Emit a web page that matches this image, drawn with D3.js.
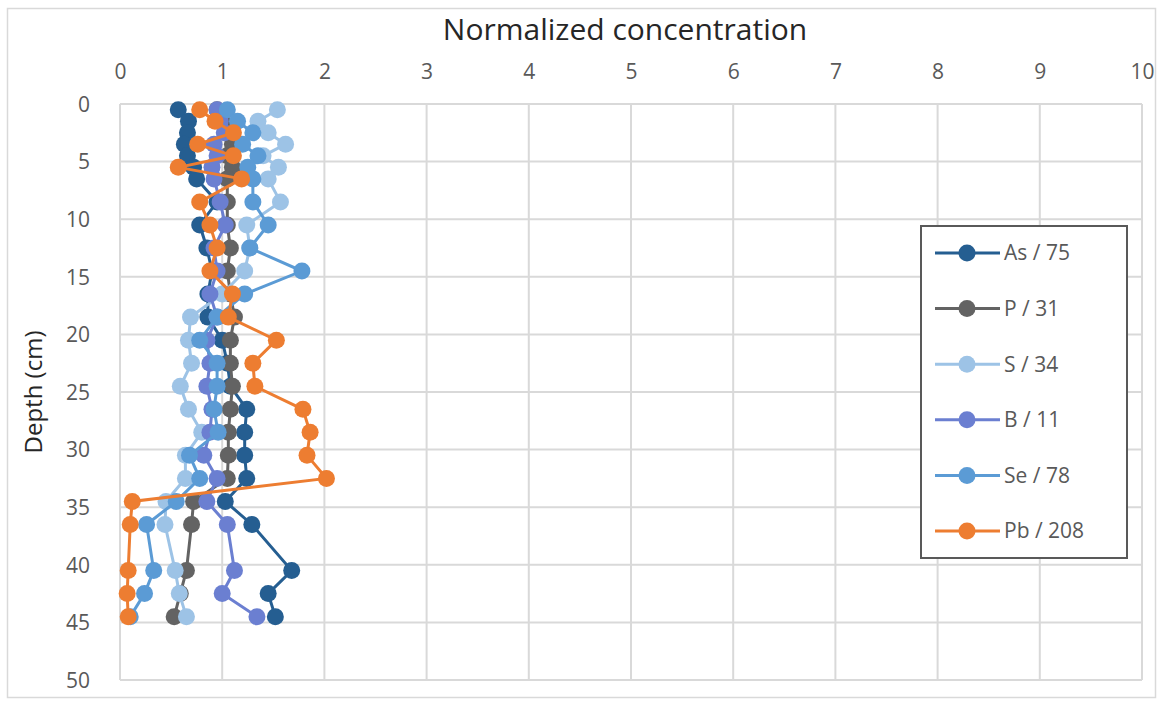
<!DOCTYPE html>
<html>
<head>
<meta charset="utf-8">
<script src="https://cdnjs.cloudflare.com/ajax/libs/d3/7.8.5/d3.min.js"></script>
<style>
  body { margin: 0; background: #fff; }
  text { font-family: "Open Sans", Lato, sans-serif; }
</style>
</head>
<body>
<svg id="chart" width="1162" height="705"></svg>
<script>
// depth of each slice (cm)
var depths = [0.5, 1.5, 2.5, 3.5, 4.5, 5.5, 6.5, 8.5, 10.5, 12.5, 14.5, 16.5, 18.5,
              20.5, 22.5, 24.5, 26.5, 28.5, 30.5, 32.5, 34.5, 36.5, 40.5, 42.5, 44.5];

// normalized concentrations, one per depth
var as75  = [0.57, 0.67, 0.66, 0.63, 0.66, 0.72, 0.75, 0.95, 0.78, 0.85, 0.90, 0.86, 0.86,
             1.00, 1.05, 1.08, 1.24, 1.22, 1.22, 1.24, 1.03, 1.29, 1.68, 1.45, 1.52];
var p31   = [0.95, 1.00, 1.05, 1.10, 1.05, 1.10, 1.05, 1.05, 1.05, 1.08, 1.05, 1.08, 1.12,
             1.08, 1.08, 1.10, 1.08, 1.06, 1.06, 1.05, 0.72, 0.70, 0.65, 0.59, 0.53];
var s34   = [1.54, 1.35, 1.45, 1.62, 1.40, 1.55, 1.45, 1.57, 1.24, 1.27, 1.22, 1.00, 0.69,
             0.67, 0.70, 0.59, 0.67, 0.80, 0.64, 0.64, 0.45, 0.44, 0.54, 0.58, 0.65];
var b11   = [0.95, 0.98, 1.02, 0.92, 0.95, 0.90, 0.92, 0.98, 1.03, 0.92, 0.95, 0.88, 0.95,
             0.85, 0.88, 0.85, 0.90, 0.88, 0.82, 0.95, 0.85, 1.05, 1.12, 1.00, 1.34];
var se78  = [1.05, 1.15, 1.30, 1.20, 1.35, 1.25, 1.30, 1.30, 1.45, 1.27, 1.78, 1.22, 0.95,
             0.78, 0.95, 0.95, 0.92, 0.96, 0.68, 0.78, 0.55, 0.26, 0.33, 0.24, 0.10];
var pb208 = [0.78, 0.93, 1.11, 0.76, 1.11, 0.57, 1.19, 0.78, 0.88, 0.95, 0.88, 1.10, 1.06,
             1.53, 1.30, 1.32, 1.79, 1.86, 1.83, 2.02, 0.12, 0.10, 0.08, 0.07, 0.08];

var seriesNames = ["As / 75", "P / 31", "S / 34", "B / 11", "Se / 78", "Pb / 208"];
var seriesColors = ["#255e91", "#636363", "#9dc3e6", "#6b7fd1", "#5b9bd5", "#ed7d31"];
var seriesValues = [as75, p31, s34, b11, se78, pb208];

var xTicks = d3.range(0, 11, 1);
var yTicks = d3.range(0, 55, 5);

var svg = d3.select("#chart");

// outer chart border
svg.append("rect")
    .attr("x", 7.5).attr("y", 8.5).attr("width", 1148).attr("height", 689)
    .attr("fill", "#fff").attr("stroke", "#d9d9d9").attr("stroke-width", 1.5);

// plot area (named plotTop etc. because "top" clashes with window.top)
var plotLeft = 120, plotRight = 1142, plotTop = 104, plotBottom = 680;

var x = d3.scaleLinear().domain([0, 10]).range([plotLeft, plotRight]);
var y = d3.scaleLinear().domain([0, 50]).range([plotTop, plotBottom]);

// gridlines
svg.append("g").selectAll("line").data(xTicks).enter().append("line")
    .attr("x1", x).attr("x2", x).attr("y1", plotTop).attr("y2", plotBottom)
    .attr("stroke", "#d9d9d9").attr("stroke-width", 2);
svg.append("g").selectAll("line").data(yTicks).enter().append("line")
    .attr("x1", plotLeft).attr("x2", plotRight).attr("y1", y).attr("y2", y)
    .attr("stroke", "#d9d9d9").attr("stroke-width", 2);

// axes: ticks only, no domain lines
var xAxis = svg.append("g")
    .attr("transform", "translate(0," + (plotTop - 22) + ")")
    .call(d3.axisTop(x).tickValues(xTicks).tickSize(0).tickFormat(d3.format("d")));
var yAxis = svg.append("g")
    .attr("transform", "translate(" + (plotLeft - 27) + ",0)")
    .call(d3.axisLeft(y).tickValues(yTicks).tickSize(0).tickFormat(d3.format("d")));
[xAxis, yAxis].forEach(function (a) {
  a.select(".domain").remove();
  a.selectAll("text").attr("fill", "#595959").style("font-size", "21px")
      .style("font-family", "'Open Sans', Lato, sans-serif");
});
yAxis.selectAll("text").attr("dy", "0.35em");

// titles
svg.append("text")
    .attr("x", 625).attr("y", 40)
    .attr("text-anchor", "middle").attr("fill", "#262626")
    .style("font-size", "30px")
    .text("Normalized concentration");
svg.append("text")
    .attr("transform", "translate(42," + (plotTop + plotBottom) / 2 + ")rotate(-90)")
    .attr("text-anchor", "middle").attr("fill", "#262626")
    .style("font-size", "24px")
    .text("Depth (cm)");

// series: line then markers
var line = d3.line()
    .x(function (d) { return x(d.v); })
    .y(function (d) { return y(d.depth); });

seriesValues.forEach(function (vals, i) {
  var pts = vals.map(function (v, j) { return { v: v, depth: depths[j] }; });
  var g = svg.append("g");
  g.append("path").datum(pts)
      .attr("d", line).attr("fill", "none")
      .attr("stroke", seriesColors[i]).attr("stroke-width", 3);
  g.selectAll("circle").data(pts).enter().append("circle")
      .attr("cx", function (d) { return x(d.v); })
      .attr("cy", function (d) { return y(d.depth); })
      .attr("r", 8.5).attr("fill", seriesColors[i]);
});

// legend
var legend = svg.append("g");
legend.append("rect")
    .attr("x", 921).attr("y", 226).attr("width", 206).attr("height", 332)
    .attr("fill", "#fff").attr("stroke", "#595959").attr("stroke-width", 2);
var item = legend.selectAll(".item").data(seriesNames).enter().append("g")
    .attr("transform", function (d, i) { return "translate(0," + (253 + i * 55.6) + ")"; });
item.append("line")
    .attr("x1", 935).attr("x2", 1000)
    .attr("stroke", function (d, i) { return seriesColors[i]; }).attr("stroke-width", 3);
item.append("circle")
    .attr("cx", 967).attr("r", 8.5)
    .attr("fill", function (d, i) { return seriesColors[i]; });
item.append("text")
    .attr("x", 1004).attr("dy", "0.35em")
    .attr("fill", "#595959").style("font-size", "21px")
    .text(function (d) { return d; });
</script>
</body>
</html>
